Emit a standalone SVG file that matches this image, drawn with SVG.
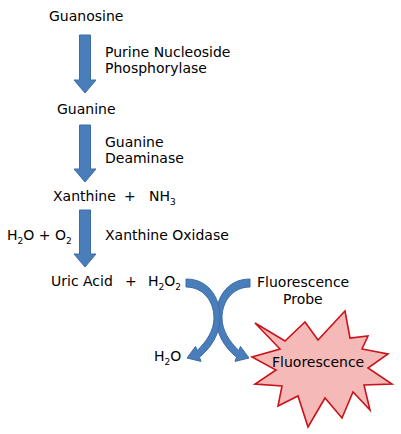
<svg xmlns="http://www.w3.org/2000/svg" width="401" height="434" viewBox="0 0 401 434">
<style>
text{font-family:"DejaVu Sans","Liberation Sans",sans-serif;font-size:14px;fill:#000}
.sub{font-size:9px}
.arrow{fill:#4a7ebb;stroke:#3d6ca3;stroke-width:1}
.star{fill:#f5b9b8;stroke:#c9141b;stroke-width:1.6;stroke-linejoin:miter}
</style>
<rect width="401" height="434" fill="#fff"/>
<g id="connectors">
  <path class="arrow" d="M79.5,35 H90.5 V80 H96 L85,93 L74,80 H79.5 Z"/>
  <path class="arrow" d="M79.5,125 H90.5 V169 H96 L85,182 L74,169 H79.5 Z"/>
  <path class="arrow" d="M79.5,210 H90.5 V254 H96 L85,267 L74,254 H79.5 Z"/>
  <path id="curve-right" class="arrow" d="M250,279 C226,279 215,300 216,320 C217,334 224,347 236.5,357.2 L235,361.4 L249,358 L240.4,346.4 L238.9,350.6 C230,342 222,331 222,318 C222,301 233,287 250,287 Z"/>
  <path id="curve-left" class="arrow" d="M186,279 C210,279 221,300 220,320 C219,334 212,347 199.5,357.2 L201,361.4 L187,358 L195.6,346.4 L197.1,350.6 C206,342 214,331 214,318 C214,301 203,287 186,287 Z"/>
</g>
<g id="guanosine"><text x="49" y="21">Guanosine</text></g>
<g id="pnp"><text x="105" y="57">Purine Nucleoside</text><text x="105" y="72.5">Phosphorylase</text></g>
<g id="guanine"><text x="57" y="114">Guanine</text></g>
<g id="gda"><text x="105" y="147">Guanine</text><text x="105" y="163">Deaminase</text></g>
<g id="xanthine"><text x="53" y="201">Xanthine</text><text x="124" y="201">+</text><text x="149" y="201">NH<tspan class="sub" dy="4">3</tspan></text></g>
<g id="h2o-o2"><text x="7" y="240" font-size="13.5">H<tspan class="sub" dy="4">2</tspan><tspan dy="-4">O + O</tspan><tspan class="sub" dy="4">2</tspan></text></g>
<g id="xo"><text x="105" y="240">Xanthine Oxidase</text></g>
<g id="uric"><text x="51" y="286">Uric Acid</text><text x="125" y="286">+</text><text x="148" y="286">H<tspan class="sub" dy="4">2</tspan><tspan dy="-4">O</tspan><tspan class="sub" dy="4">2</tspan></text></g>
<g id="probe"><text x="257" y="287">Fluorescence</text><text x="283" y="304">Probe</text></g>
<g id="h2o"><text x="154" y="361">H<tspan class="sub" dy="4">2</tspan><tspan dy="-4">O</tspan></text></g>
<g id="fluorescence">
  <path class="star" d="M255,323 L285,341 L305,322 L318,340 L345,311 L350,338 L368,336 L362,349 L388,354 L368,368 L392,384 L364,385 L370,410 L353,392 L342,418 L325,398 L308,427 L298,396 L278,406 L282,386 L255,384 L276,370 L252,357 L280,349 Z"/>
  <text x="272" y="367">Fluorescence</text>
</g>
</svg>
